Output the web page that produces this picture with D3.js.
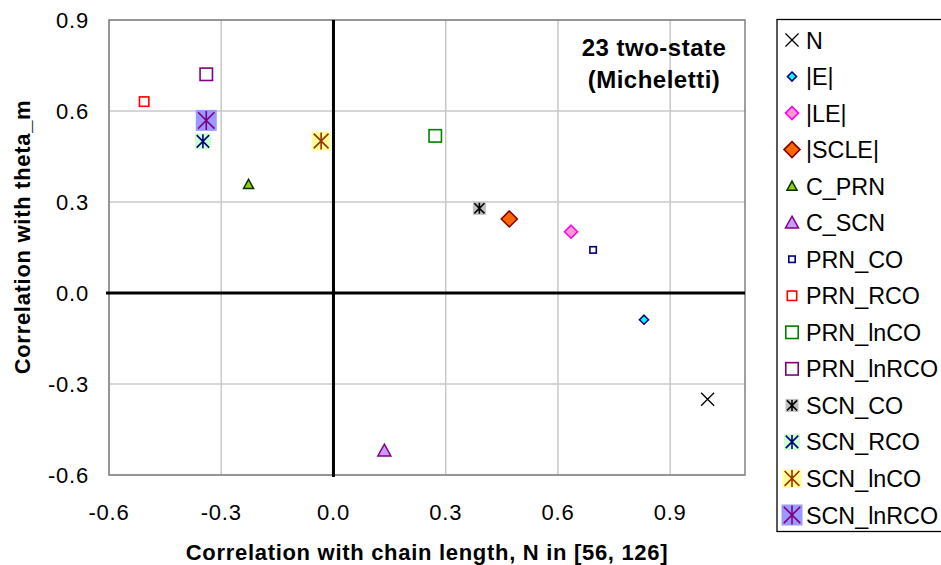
<!DOCTYPE html>
<html>
<head>
<meta charset="utf-8">
<script src="https://cdn.jsdelivr.net/npm/d3@7/dist/d3.min.js"></script>
<style>
  body { margin: 0; background: #fff; }
  svg { display: block; font-family: "Liberation Sans", Arial, sans-serif; }
</style>
</head>
<body>
<svg id="chart" width="941" height="565"></svg>
<script>
// Descriptor names, in legend order
const seriesNames = ["N", "|E|", "|LE|", "|SCLE|", "C_PRN", "C_SCN", "PRN_CO", "PRN_RCO",
  "PRN_lnCO", "PRN_lnRCO", "SCN_CO", "SCN_RCO", "SCN_lnCO", "SCN_lnRCO"];
// Correlation with chain length N
const corrN = [1.00, 0.83, 0.635, 0.47, -0.227, 0.136, 0.694, -0.506,
  0.272, -0.34, 0.39, -0.349, -0.033, -0.34];
// Correlation with theta_m
const corrTheta = [-0.35, -0.088, 0.202, 0.244, 0.358, -0.52, 0.142, 0.631,
  0.518, 0.721, 0.279, 0.50, 0.501, 0.569];
const xTicks = [-0.6, -0.3, 0.0, 0.3, 0.6, 0.9];
const yTicks = [-0.6, -0.3, 0.0, 0.3, 0.6, 0.9];

// Marker styles per series
const markerStyles = [
  { shape: "x", size: 13, stroke: "#000000", fill: "none" },
  { shape: "diamond", size: 9, stroke: "#000080", fill: "#00ffff" },
  { shape: "diamond", size: 13, stroke: "#ff00ff", fill: "#ff99cc" },
  { shape: "diamond", size: 16, stroke: "#800000", fill: "#ff6600" },
  { shape: "triangle", size: 10, stroke: "#003300", fill: "#99cc00" },
  { shape: "triangle", size: 13, stroke: "#800080", fill: "#cc99ff" },
  { shape: "square", size: 8, stroke: "#000080", fill: "#ffffff" },
  { shape: "square", size: 11, stroke: "#ff0000", fill: "#ffffff" },
  { shape: "square", size: 14, stroke: "#008000", fill: "#ffffff" },
  { shape: "square", size: 14, stroke: "#800080", fill: "#ffffff" },
  { shape: "star", size: 13, stroke: "#000000", fill: "#c0c0c0" },
  { shape: "star", size: 16, stroke: "#000080", fill: "#ccffcc" },
  { shape: "star", size: 19, stroke: "#993300", fill: "#ffff99" },
  { shape: "star", size: 21, stroke: "#800080", fill: "#9999ff" }
];

const svg = d3.select("#chart");
const plot = { left: 109, top: 20, right: 745, bottom: 475 };

const x = d3.scaleLinear().domain([-0.6, 1.1]).range([plot.left, plot.right]);
const y = d3.scaleLinear().domain([-0.6, 0.9]).range([plot.bottom, plot.top]);
const fmt = d => d3.format(".1f")(d).replace("\u2212", "-");

// Gridlines
const grid = svg.append("g");
grid.selectAll("line.vg").data(xTicks).enter().append("line")
  .attr("x1", d => x(d)).attr("x2", d => x(d))
  .attr("y1", plot.top).attr("y2", plot.bottom)
  .attr("stroke", "#c8c8c8").attr("stroke-width", 1.5);
grid.selectAll("line.hg").data(yTicks).enter().append("line")
  .attr("x1", plot.left).attr("x2", plot.right)
  .attr("y1", d => y(d)).attr("y2", d => y(d))
  .attr("stroke", "#c8c8c8").attr("stroke-width", 1.5);

// Plot border
svg.append("rect")
  .attr("x", plot.left).attr("y", plot.top)
  .attr("width", plot.right - plot.left).attr("height", plot.bottom - plot.top)
  .attr("fill", "none").attr("stroke", "#808080").attr("stroke-width", 1.5);

// Zero axes
svg.append("line")
  .attr("x1", x(0)).attr("x2", x(0)).attr("y1", plot.top).attr("y2", plot.bottom + 2)
  .attr("stroke", "#000").attr("stroke-width", 3);
svg.append("line")
  .attr("x1", plot.left - 3).attr("x2", plot.right).attr("y1", y(0)).attr("y2", y(0))
  .attr("stroke", "#000").attr("stroke-width", 3);

// Tick labels
svg.append("g").selectAll("text").data(xTicks).enter().append("text")
  .attr("x", d => x(d)).attr("y", 520)
  .attr("text-anchor", "middle").attr("font-size", 22).attr("letter-spacing", 0.8)
  .text(fmt);
svg.append("g").selectAll("text").data(yTicks).enter().append("text")
  .attr("x", 89).attr("y", d => y(d) + 8)
  .attr("text-anchor", "end").attr("font-size", 22).attr("letter-spacing", 0.8)
  .text(fmt);

// Axis titles
svg.append("text")
  .attr("x", 427).attr("y", 559.5)
  .attr("text-anchor", "middle").attr("font-size", 22).attr("font-weight", "bold")
  .attr("letter-spacing", 0.7)
  .text("Correlation with chain length, N in [56, 126]");
svg.append("text")
  .attr("transform", "translate(30,237) rotate(-90)")
  .attr("text-anchor", "middle").attr("font-size", 22).attr("font-weight", "bold")
  .attr("letter-spacing", 0.7)
  .text("Correlation with theta_m");

// In-plot title
const title = svg.append("text")
  .attr("text-anchor", "middle").attr("font-size", 24).attr("font-weight", "bold")
  .attr("letter-spacing", 0.5);
title.append("tspan").attr("x", 654).attr("y", 56).text("23 two-state");
title.append("tspan").attr("x", 654).attr("y", 88).text("(Micheletti)");

// Marker drawing
function drawMarker(g, s) {
  const h = s.size / 2;
  if (s.shape === "x") {
    g.append("path").attr("d", `M${-h},${-h}L${h},${h}M${-h},${h}L${h},${-h}`)
      .attr("stroke", s.stroke).attr("stroke-width", 1.3).attr("fill", "none");
  } else if (s.shape === "diamond") {
    g.append("path").attr("d", `M0,${-h}L${h},0L0,${h}L${-h},0Z`)
      .attr("fill", s.fill).attr("stroke", s.stroke).attr("stroke-width", 1.6);
  } else if (s.shape === "triangle") {
    g.append("path").attr("d", `M0,${-h}L${h},${h * 0.8}L${-h},${h * 0.8}Z`)
      .attr("fill", s.fill).attr("stroke", s.stroke).attr("stroke-width", 1.5);
  } else if (s.shape === "square") {
    const a = h - 0.8;
    g.append("rect").attr("x", -a).attr("y", -a).attr("width", 2 * a).attr("height", 2 * a)
      .attr("fill", s.fill).attr("stroke", s.stroke).attr("stroke-width", 1.6);
  } else if (s.shape === "star") {
    g.append("rect").attr("x", -h).attr("y", -h).attr("width", 2 * h).attr("height", 2 * h)
      .attr("fill", s.fill);
    const k = h * 0.78;
    g.append("path")
      .attr("d", `M0,${-h + 1}L0,${h - 1}M${-k},${-k}L${k},${k}M${-k},${k}L${k},${-k}`)
      .attr("stroke", s.stroke).attr("stroke-width", 1.6).attr("fill", "none");
  }
}

// Data points
const points = seriesNames.map((name, i) => ({ name, xv: corrN[i], yv: corrTheta[i], style: markerStyles[i] }));
svg.append("g").selectAll("g").data(points).enter().append("g")
  .attr("transform", d => `translate(${x(d.xv)},${y(d.yv)})`)
  .each(function (d) { drawMarker(d3.select(this), d.style); });

// Legend
const legend = svg.append("g");
legend.append("rect")
  .attr("x", 777).attr("y", 19.5).attr("width", 170).attr("height", 512)
  .attr("fill", "#fff").attr("stroke", "#000").attr("stroke-width", 1.3);
const ly = d3.scaleLinear().domain([0, seriesNames.length - 1]).range([40, 515]);
const items = legend.selectAll("g.item").data(points).enter().append("g")
  .attr("transform", (d, i) => `translate(792,${ly(i)})`);
items.each(function (d) { drawMarker(d3.select(this), d.style); });
items.append("text")
  .attr("x", 14).attr("y", 8.5).attr("font-size", 23.3)
  .text(d => d.name);
</script>
</body>
</html>
